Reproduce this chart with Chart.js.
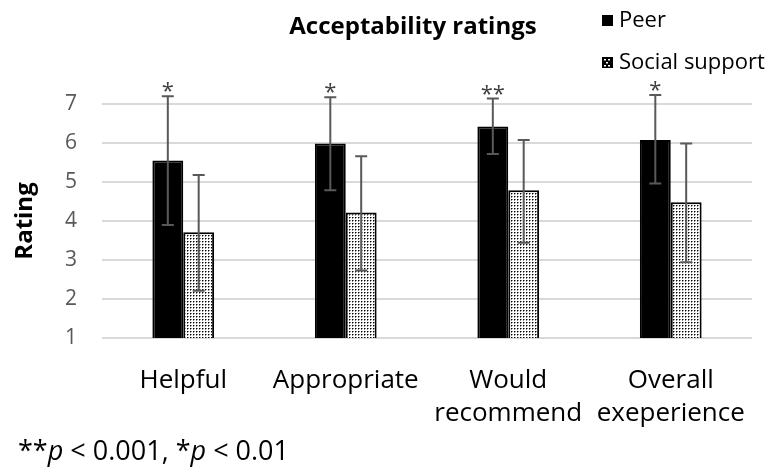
<!DOCTYPE html>
<html>
<head>
<meta charset="utf-8">
<script src="https://cdn.jsdelivr.net/npm/chart.js@4"></script>
<style>
  html, body { margin: 0; padding: 0; background: #fff; }
  #wrap { width: 773px; height: 475px; position: relative; }
</style>
</head>
<body>
<div id="wrap"><canvas id="ratingsChart" width="773" height="475"></canvas></div>
<script>
const categories = [['Helpful'], ['Appropriate'], ['Would', 'recommend'], ['Overall', 'exeperience']];
const seriesNames = ['Peer', 'Social support'];
const peerMeans = [5.55, 5.99, 6.42, 6.08];
const peerUpper = [7.20, 7.17, 7.14, 7.23];
const peerLower = [3.90, 4.79, 5.72, 4.96];
const socialMeans = [3.71, 4.22, 4.79, 4.48];
const socialUpper = [5.18, 5.66, 6.08, 5.99];
const socialLower = [2.21, 2.73, 3.44, 2.94];
const sigMarks = ['*', '*', '**', '*'];
const yTicks = [1, 2, 3, 4, 5, 6, 7];

const FONT = '"Open Sans", Lato, sans-serif';
const canvas = document.getElementById('ratingsChart');
const ctx = canvas.getContext('2d');

// white fill with small black dots, for the social support bars
function makeDots() {
    const c = document.createElement('canvas');
    c.width = 3; c.height = 3;
    const g = c.getContext('2d');
    g.fillStyle = '#fff';
    g.fillRect(0, 0, 3, 3);
    g.fillStyle = '#000';
    g.fillRect(1, 1, 1, 1);
    g.fillStyle = '#888';
    g.fillRect(2, 1, 1, 1);
    g.fillRect(1, 2, 1, 1);
    return ctx.createPattern(c, 'repeat');
}

const errorBars = {
    id: 'errorBars',
    afterDatasetsDraw(chart) {
        const y = chart.scales.y;
        const g = chart.ctx;
        const bounds = [[peerUpper, peerLower], [socialUpper, socialLower]];
        g.save();
        g.strokeStyle = '#595959';
        g.lineWidth = 2;
        bounds.forEach(([up, lo], i) => {
            chart.getDatasetMeta(i).data.forEach((bar, j) => {
                const yt = y.getPixelForValue(up[j]);
                const yb = y.getPixelForValue(lo[j]);
                g.beginPath();
                g.moveTo(bar.x, yt); g.lineTo(bar.x, yb);
                g.moveTo(bar.x - 6, yt); g.lineTo(bar.x + 6, yt);
                g.moveTo(bar.x - 6, yb); g.lineTo(bar.x + 6, yb);
                g.stroke();
            });
        });
        // significance stars above the peer bars
        g.fillStyle = '#404040';
        g.font = '22px ' + FONT;
        g.textAlign = 'center';
        g.textBaseline = 'alphabetic';
        chart.getDatasetMeta(0).data.forEach((bar, j) => {
            const yt = y.getPixelForValue(peerUpper[j]);
            g.fillText(sigMarks[j], bar.x, yt + 2);
        });
        g.restore();
    }
};

const extras = {
    id: 'extras',
    afterDraw(chart) {
        const g = chart.ctx;
        g.save();
        // title
        g.fillStyle = '#000';
        g.font = 'bold 24px ' + FONT;
        g.textAlign = 'center';
        g.textBaseline = 'middle';
        g.fillText('Acceptability ratings', 413, 27);
        // legend
        g.font = '22px ' + FONT;
        g.textAlign = 'left';
        g.fillRect(602, 15, 11, 11);
        g.fillText(seriesNames[0], 619, 21);
        g.fillRect(602, 57, 11, 11);
        g.fillStyle = '#fff';
        [[604, 59], [608, 59], [606, 62], [604, 65], [608, 65]].forEach(([a, b]) => g.fillRect(a, b, 2, 1.5));
        g.fillStyle = '#000';
        g.fillText(seriesNames[1], 619, 63);
        // footnote
        let x = 18;
        const yy = 452;
        const parts = [['**', ''], ['p', 'italic '], [' < 0.001, *', ''], ['p', 'italic '], [' < 0.01', '']];
        parts.forEach(([t, st]) => {
            g.font = st + '27px ' + FONT;
            g.fillText(t, x, yy);
            x += g.measureText(t).width;
        });
        g.restore();
    }
};

new Chart(ctx, {
    type: 'bar',
    data: {
        labels: categories,
        datasets: [
            {
                label: seriesNames[0],
                data: peerMeans,
                backgroundColor: '#000',
                borderColor: '#000',
                borderWidth: 2
            },
            {
                label: seriesNames[1],
                data: socialMeans,
                backgroundColor: makeDots(),
                borderColor: '#000',
                borderWidth: 2
            }
        ]
    },
    options: {
        responsive: false,
        animation: false,
        devicePixelRatio: 1,
        layout: { padding: { top: 104, right: 21, left: 0, bottom: 0 } },
        datasets: { bar: { categoryPercentage: 0.38, barPercentage: 1 } },
        plugins: {
            legend: { display: false },
            title: { display: false },
            tooltip: { enabled: false }
        },
        scales: {
            x: {
                grid: { display: false },
                border: { display: false },
                ticks: {
                    color: '#000',
                    font: { family: FONT, size: 26, lineHeight: 1.27 },
                    padding: 18,
                    maxRotation: 0
                },
                afterFit(scale) { scale.height = 137; }
            },
            y: {
                min: 1,
                max: 7,
                afterBuildTicks(scale) { scale.ticks = yTicks.map(v => ({ value: v })); },
                grid: { color: '#d9d9d9', lineWidth: 2, drawTicks: false },
                border: { display: false },
                ticks: {
                    color: '#595959',
                    font: { family: FONT, size: 21 },
                    padding: 25
                },
                title: {
                    display: true,
                    text: 'Rating',
                    color: '#000',
                    font: { family: FONT, size: 24, weight: 'bold' },
                    padding: { top: 11, bottom: 0 }
                },
                afterFit(scale) { scale.width = 102; }
            }
        }
    },
    plugins: [errorBars, extras]
});
</script>
</body>
</html>
